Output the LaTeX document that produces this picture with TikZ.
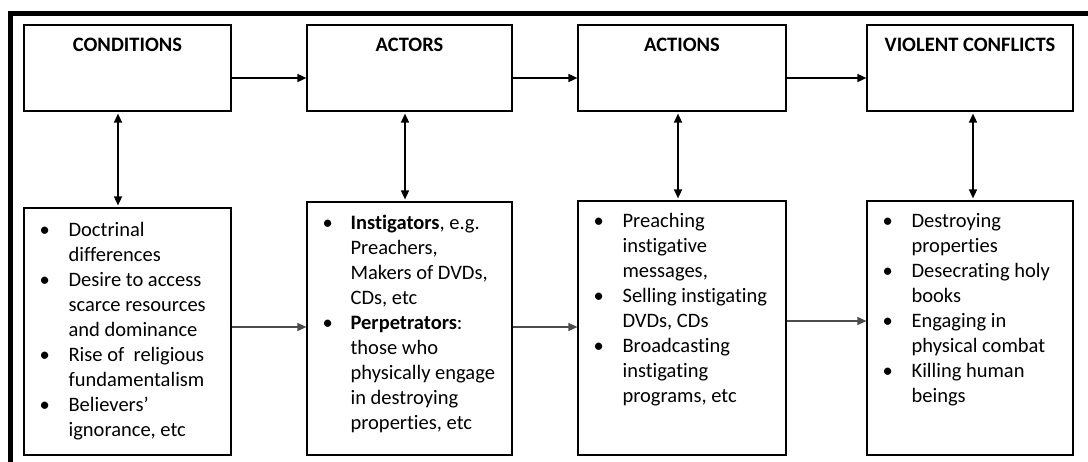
\documentclass[tikz,border=0pt]{standalone}
\usepackage{fontspec}
\setmainfont[Ligatures={NoCommon}]{Carlito}
\usetikzlibrary{arrows.meta}
\begin{document}
\begin{tikzpicture}[x=1pt,y=-1pt,line join=miter,
		font=\fontsize{20.5pt}{25pt}\selectfont,
		head/.style={draw,line width=1.2pt,inner sep=0pt,text height=26pt,text depth=60pt,font=\fontsize{20.5pt}{25pt}\selectfont\bfseries},
		body/.style={draw,line width=1.2pt,inner sep=0pt},
		list/.style={inner sep=0pt,anchor=base west},
		link/.style={line width=1.6pt,-{Triangle[length=9pt,width=8pt]}},
		thin/.style={line width=1.2pt,black!70,-{Triangle[length=9pt,width=8pt]}},
		both/.style={line width=1.5pt,{Triangle[length=9pt,width=8pt]}-{Triangle[length=9pt,width=8pt]},shorten <=2pt,shorten >=2pt}]
			\useasboundingbox (0,0) rectangle (1088,461);
			\draw[line width=4.5pt] (10.5,470) -- (10.5,13.5) -- (1095,13.5);
			\path (0,78) coordinate (r0) (0,327) coordinate (r1) (0,321) coordinate (r2);
			\node[head,minimum width=207pt] (cond) at (127.5,68) {CONDITIONS};
			\node[head,minimum width=205pt] (act) at (409.5,68) {ACTORS};
			\node[head,minimum width=208pt] (acn) at (682,68) {ACTIONS};
			\node[head,minimum width=206pt] (vio) at (970,68) {VIOLENT CONFLICTS};
			\node[body,minimum width=207pt,minimum height=247pt] (condL) at (127.5,331.5) {};
			\node[body,minimum width=205pt,minimum height=253pt] (actL) at (409.5,328.5) {};
			\node[body,minimum width=208pt,minimum height=254pt] (acnL) at (682,328) {};
			\node[body,minimum width=206pt,minimum height=254pt] (vioL) at (970,328) {};
			\node[list] (condT) at ([shift={(16,29)}]condL.north west) {\begin{tabular}[t]{@{}p{29pt}@{}l@{}}
				\textbullet & Doctrinal\\
				& differences\\
				\textbullet & Desire to access\\
				& scarce resources\\
				& and dominance\\
				\textbullet & Rise of\ \ religious\\
				& fundamentalism\\
				\textbullet & Believers’\\
				& ignorance, etc
			\end{tabular}};
			\node[list] (actT) at ([shift={(16,28)}]actL.north west) {\begin{tabular}[t]{@{}p{28pt}@{}l@{}}
				\textbullet & \textbf{Instigators}, e.g.\\
				& Preachers,\\
				& Makers of DVDs,\\
				& CDs, etc\\
				\textbullet & \textbf{Perpetrators}:\\
				& those who\\
				& physically engage\\
				& in destroying\\
				& properties, etc
			\end{tabular}};
			\node[list] (acnT) at ([shift={(16,27)}]acnL.north west) {\begin{tabular}[t]{@{}p{29pt}@{}l@{}}
				\textbullet & Preaching\\
				& instigative\\
				& messages,\\
				\textbullet & Selling instigating\\
				& DVDs, CDs\\
				\textbullet & Broadcasting\\
				& instigating\\
				& programs, etc
			\end{tabular}};
			\node[list] (vioT) at ([shift={(16,27)}]vioL.north west) {\begin{tabular}[t]{@{}p{29pt}@{}l@{}}
				\textbullet & Destroying\\
				& properties\\
				\textbullet & Desecrating holy\\
				& books\\
				\textbullet & Engaging in\\
				& physical combat\\
				\textbullet & Killing human\\
				& beings
			\end{tabular}};
			\foreach \a/\b in {cond/act,act/acn,acn/vio} \draw[link] (\a.east|-r0) -- (\b.west|-r0);
			\foreach \a/\b/\r in {condL/actL/r1,actL/acnL/r1,acnL/vioL/r2} \draw[thin] (\a.east|-\r) -- (\b.west|-\r);
			\foreach \a/\b/\s in {cond/condL/-9.5,act/actL/-4.5,acn/acnL/-4,vio/vioL/3} \draw[both] ([xshift=\s pt]\a.south) -- ([xshift=\s pt]\b.north);
		\end{tikzpicture}
\end{document}
